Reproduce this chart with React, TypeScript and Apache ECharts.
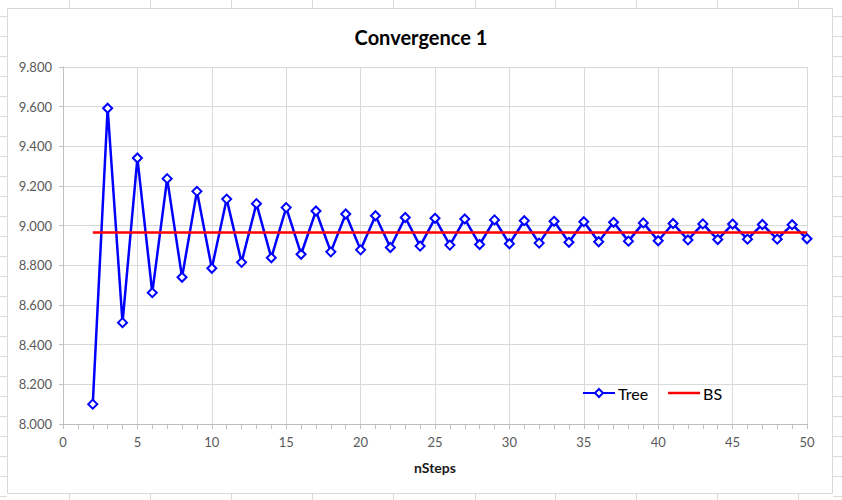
import React, { useEffect, useRef } from "react";
import * as echarts from "echarts";

const steps: number[] = [2,3,4,5,6,7,8,9,10,11,12,13,14,15,16,17,18,19,20,21,22,23,24,25,26,27,28,29,30,31,32,33,34,35,36,37,38,39,40,41,42,43,44,45,46,47,48,49,50];
const treeValues: number[] = [
  8.100, 9.592, 8.511, 9.341, 8.662, 9.237, 8.740, 9.173, 8.785, 9.134,
  8.815, 9.111, 8.838, 9.091, 8.856, 9.074, 8.868, 9.059, 8.878, 9.050,
  8.890, 9.041, 8.897, 9.037, 8.902, 9.034, 8.905, 9.029, 8.909, 9.025,
  8.912, 9.022, 8.916, 9.020, 8.919, 9.017, 8.922, 9.014, 8.924, 9.011,
  8.928, 9.009, 8.930, 9.008, 8.932, 9.006, 8.932, 9.005, 8.934,
];
const bsSteps: number[] = [2, 50];
const bsValues: number[] = [8.965, 8.965];
const seriesNames: string[] = ["Tree", "BS"];
const chartTitle = "Convergence 1";
const xAxisName = "nSteps";

const FONT = "Lato, 'Open Sans', sans-serif";
const LINE_ICON =
  "path://M0,0L0.01,0L0.01,0.01Z M0,3.7L32,3.7L32,6.3L0,6.3Z M0,10L0.01,10L0.01,9.99Z";

function sheetGrid(): any[] {
  const els: any[] = [];
  const cols = [69, 150, 231, 312, 393, 475, 555, 636, 717, 798];
  const lineStyle = { stroke: "#dadada", lineWidth: 1 };
  cols.forEach((x) => {
    els.push({ type: "line", shape: { x1: x + 0.5, y1: 0, x2: x + 0.5, y2: 8 }, style: lineStyle, silent: true });
    els.push({ type: "line", shape: { x1: x + 0.5, y1: 494, x2: x + 0.5, y2: 500 }, style: lineStyle, silent: true });
  });
  for (let y = 16; y < 500; y += 20) {
    els.push({ type: "line", shape: { x1: 0, y1: y + 0.5, x2: 7, y2: y + 0.5 }, style: lineStyle, silent: true });
    els.push({ type: "line", shape: { x1: 833, y1: y + 0.5, x2: 842, y2: y + 0.5 }, style: lineStyle, silent: true });
  }
  els.push({
    type: "rect",
    shape: { x: 7.5, y: 8.5, width: 825, height: 485 },
    style: { fill: "none", stroke: "#d9d9d9", lineWidth: 1 },
    silent: true,
    z: 10,
  });
  return els;
}

export default function App() {
  const ref = useRef<HTMLDivElement>(null);
  useEffect(() => {
    if (!ref.current) return;
    const chart = echarts.init(ref.current, undefined, { renderer: "svg" });
    const option: any = {
      animation: false,
      backgroundColor: "#ffffff",
      title: {
        text: chartTitle,
        left: "center",
        top: 22,
        textStyle: { fontFamily: FONT, fontSize: 20, fontWeight: "bold", color: "#000000" },
      },
      graphic: sheetGrid(),
      legend: {
        left: 577,
        top: 380,
        itemWidth: 32,
        itemHeight: 10,
        itemGap: 20,
        textStyle: { fontFamily: FONT, fontSize: 16, color: "#000000", padding: [0, 0, 0, -2] },
        data: [{ name: seriesNames[0] }, { name: seriesNames[1], icon: LINE_ICON }],
      },
      grid: { left: 63, right: 35, top: 67, bottom: 76, containLabel: false },
      xAxis: {
        type: "value",
        min: 0,
        max: 50,
        interval: 5,
        name: xAxisName,
        nameLocation: "middle",
        nameGap: 36,
        nameTextStyle: { fontFamily: FONT, fontSize: 14, fontWeight: "bold", color: "#1a1a1a" },
        axisLine: { show: true, lineStyle: { color: "#bfbfbf", width: 1 } },
        axisTick: { show: true, length: 5, lineStyle: { color: "#bfbfbf" } },
        minorTick: { show: true, splitNumber: 5, length: 5, lineStyle: { color: "#bfbfbf" } },
        axisLabel: { fontFamily: FONT, fontSize: 13, color: "#595959", margin: 11 },
        splitLine: { show: true, lineStyle: { color: "#d9d9d9", width: 1 } },
      },
      yAxis: {
        type: "value",
        min: 8,
        max: 9.8,
        interval: 0.2,
        axisLine: { show: true, lineStyle: { color: "#bfbfbf", width: 1 } },
        axisTick: { show: true, length: 4, lineStyle: { color: "#bfbfbf" } },
        axisLabel: {
          fontFamily: FONT,
          fontSize: 13,
          color: "#595959",
          margin: 11,
          formatter: (v: number) => v.toFixed(3),
        },
        splitLine: { show: true, lineStyle: { color: "#d9d9d9", width: 1 } },
      },
      series: [
        {
          name: seriesNames[0],
          type: "line",
          data: steps.map((s, i) => [s, treeValues[i]]),
          symbol: "emptyDiamond",
          symbolSize: 9,
          showAllSymbol: true,
          lineStyle: { color: "#0000ff", width: 2.5 },
          itemStyle: { color: "#0000ff", borderColor: "#0000ff", borderWidth: 1.25 },
          z: 3,
        },
        {
          name: seriesNames[1],
          type: "line",
          data: bsSteps.map((s, i) => [s, bsValues[i]]),
          symbol: "none",
          lineStyle: { color: "#ff0000", width: 2.5 },
          itemStyle: { color: "#ff0000" },
          z: 4,
        },
      ],
    };
    chart.setOption(option);
    return () => chart.dispose();
  }, []);
  return (
    <div
      ref={ref}
      style={{ position: "fixed", left: 0, top: 0, width: 842, height: 500, background: "#ffffff" }}
    />
  );
}
